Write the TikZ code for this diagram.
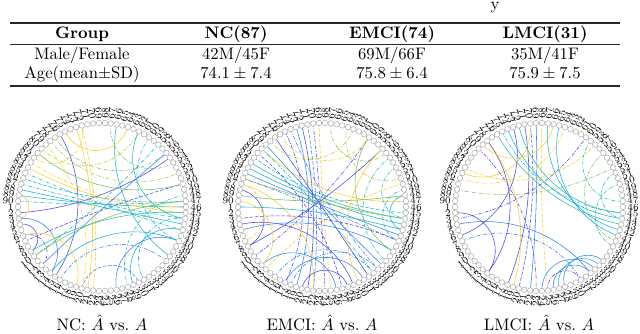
\documentclass[tikz,border=0pt]{standalone}
\usepackage{amsmath,amssymb}
\usepackage{xcolor}
\usepackage{tikz}
\usetikzlibrary{calc,backgrounds}
\definecolor{ink}{RGB}{40,40,40}
\definecolor{ringgray}{RGB}{170,170,170}
\definecolor{pBlue}{RGB}{80,80,230}
\definecolor{pAzure}{RGB}{60,135,245}
\definecolor{pCyan}{RGB}{30,180,215}
\definecolor{pTeal}{RGB}{45,190,175}
\definecolor{pGreen}{RGB}{125,195,90}
\definecolor{pLime}{RGB}{185,200,60}
\definecolor{pYellow}{RGB}{250,210,45}
\tikzset{
  roi/.style={circle,draw=ringgray,fill=white,line width=0.3pt,inner sep=0pt,minimum size=3.3pt},
  roilabel/.style={font=\fontsize{5.6}{5.6}\selectfont,inner sep=0.3pt,text=black},
  link/.style={line width=0.35pt},
  sl/.style={solid},
  dd/.style={dash pattern=on 2.2pt off 0.9pt on 0.5pt off 0.9pt},
  ds/.style={dash pattern=on 2.2pt off 1pt},
  cell/.style={anchor=base,inner sep=0pt,text=black},
  toprule/.style={line width=0.8pt,ink},
  midrule/.style={line width=0.5pt,ink},
  caption/.style={anchor=base,inner sep=0pt}
}
% one circular connectivity plot: prefix, x of centre, caption, edges i/j/colour/line
\newcommand{\connplot}[4]{%
  \begin{scope}[shift={(#2,127)}]
    \coordinate (#1) at (0,0);
    \foreach \n in {1,...,90}{
      \pgfmathsetmacro\a{(\n-46)*4}
      \node[roi] (#1-\n) at (\a:84) {};
    }
    % right half reads outwards, left half is turned round
    \foreach \n in {24,...,68}{
      \pgfmathsetmacro\a{(\n-46)*4}
      \node[roilabel,anchor=west,rotate=\a] (#1-l\n) at (\a:87.5) {\n};
    }
    \foreach \k in {0,...,44}{
      \pgfmathtruncatemacro\n{mod(68+\k,90)+1}
      \pgfmathsetmacro\a{(\n-46)*4}
      \node[roilabel,anchor=east,rotate=\a+180] (#1-l\n) at (\a:87.5) {\n};
    }
    \begin{scope}[on background layer]
      \foreach \i/\j/\col/\lst in {#4}{
        \pgfmathsetmacro\dang{min(abs(\i-\j)*4,360-abs(\i-\j)*4)}
        \pgfmathsetmacro\f{2/3*sin(\dang/2)/(cos(45-\dang/4))^2}
        \draw[link,\col,\lst] (#1-\i.center) .. controls ($(#1-\i.center)!\f!(#1)$)
          and ($(#1-\j.center)!\f!(#1)$) .. (#1-\j.center);
      }
    \end{scope}
    \node[caption] (#1-cap) at (0,-124) {#3};
  \end{scope}
}

\begin{document}
\begin{tikzpicture}[x=0.6pt,y=0.6pt]
  \useasboundingbox (0,0) rectangle (640,334);
  \node[cell] (cut) at (495,324) {y};
  % table
  \draw[toprule] (10,311) -- (620,311);
  \node[cell] (grp) at (82,295.5) {\textbf{Group}};
  \node[cell] (hnc) at (236,295.5) {\textbf{NC(87)}};
  \node[cell] (hemci) at (392,295.5) {\textbf{EMCI(74)}};
  \node[cell] (hlmci) at (545,295.5) {\textbf{LMCI(31)}};
  \draw[midrule] (10,290) -- (620,290);
  \node[cell] (sex) at (82,274) {Male/Female};
  \node[cell] (sexnc) at (236,274) {42M/45F};
  \node[cell] (sexemci) at (392,274) {69M/66F};
  \node[cell] (sexlmci) at (545,274) {35M/41F};
  \node[cell] (age) at (82,255.5) {Age(mean$\pm$SD)};
  \node[cell] (agenc) at (236,255.5) {$74.1 \pm 7.4$};
  \node[cell] (ageemci) at (392,255.5) {$75.8 \pm 6.4$};
  \node[cell] (agelmci) at (545,255.5) {$75.9 \pm 7.5$};
  \draw[toprule] (10,248) -- (620,248);
  % circular plots
  \connplot{nc}{102}{NC: $\hat{A}$ vs.\ $A$}{
    88/43/pCyan/sl, 87/44/pCyan/dd, 89/46/pTeal/sl, 86/47/pCyan/ds, 85/42/pTeal/dd,
    90/47/pCyan/dd, 84/45/pYellow/sl, 83/46/pYellow/dd, 82/72/pYellow/dd, 73/21/pYellow/sl,
    72/22/pYellow/ds, 77/56/pGreen/dd, 78/52/pLime/dd, 67/54/pGreen/dd, 66/37/pCyan/sl,
    48/28/pTeal/dd, 76/15/pBlue/sl, 4/9/pBlue/sl, 6/12/pBlue/dd, 3/14/pAzure/sl,
    2/55/pBlue/sl, 7/50/pBlue/ds, 42/29/pCyan/sl, 40/26/pAzure/sl, 44/31/pCyan/dd,
    20/30/pAzure/ds, 12/56/pAzure/sl, 10/58/pCyan/dd, 10/47/pGreen/sl, 89/3/pYellow/sl,
    6/19/pYellow/sl, 80/62/pLime/dd, 79/20/pYellow/dd, 81/50/pGreen/sl, 75/64/pYellow/sl,
    14/40/pCyan/sl, 16/36/pAzure/dd, 9/45/pTeal/sl, 60/40/pCyan/dd, 62/44/pTeal/sl}
  \connplot{emci}{322}{EMCI: $\hat{A}$ vs.\ $A$}{
    84/43/pCyan/sl, 83/44/pTeal/sl, 85/41/pAzure/sl, 82/45/pCyan/ds, 86/40/pAzure/dd,
    86/44/pGreen/sl, 72/21/pBlue/sl, 71/22/pAzure/ds, 73/19/pAzure/sl, 70/24/pBlue/dd,
    69/25/pYellow/ds, 67/56/pGreen/dd, 64/51/pLime/dd, 55/36/pTeal/dd, 48/42/pCyan/sl,
    49/40/pCyan/dd, 8/57/pBlue/sl, 10/60/pBlue/dd, 88/8/pBlue/sl, 17/31/pAzure/sl,
    15/33/pAzure/dd, 4/29/pBlue/sl, 87/22/pYellow/sl, 80/47/pYellow/sl, 87/7/pYellow/dd,
    13/50/pYellow/ds, 1/42/pCyan/sl, 89/48/pGreen/sl, 77/32/pBlue/sl, 79/35/pAzure/sl,
    74/34/pAzure/dd, 80/33/pCyan/dd, 76/60/pYellow/dd, 78/63/pLime/dd, 81/27/pBlue/ds,
    5/38/pAzure/sl, 12/26/pAzure/sl, 18/34/pAzure/dd, 20/28/pBlue/sl, 60/38/pGreen/sl,
    57/30/pYellow/sl, 75/17/pBlue/dd, 3/40/pBlue/ds, 90/12/pYellow/sl, 53/44/pTeal/dd}
  \connplot{lmci}{539}{LMCI: $\hat{A}$ vs.\ $A$}{
    70/20/pBlue/ds, 71/18/pBlue/sl, 69/22/pAzure/sl, 67/42/pCyan/sl, 74/44/pCyan/sl,
    76/43/pTeal/sl, 75/45/pCyan/dd, 85/70/pYellow/sl, 84/58/pYellow/ds, 68/25/pYellow/ds,
    78/19/pYellow/sl, 88/53/pGreen/dd, 59/47/pTeal/dd, 56/40/pGreen/dd, 52/44/pCyan/dd,
    50/39/pTeal/dd, 6/73/pBlue/sl, 4/33/pAzure/sl, 7/31/pAzure/dd, 24/34/pAzure/sl,
    26/33/pAzure/sl, 27/35/pCyan/sl, 25/31/pBlue/dd, 28/36/pAzure/sl, 78/14/pBlue/sl,
    2/14/pBlue/sl, 80/23/pBlue/dd, 72/45/pTeal/sl, 65/41/pCyan/sl, 79/66/pYellow/sl,
    86/64/pYellow/dd, 3/60/pBlue/dd}
\end{tikzpicture}
\end{document}
